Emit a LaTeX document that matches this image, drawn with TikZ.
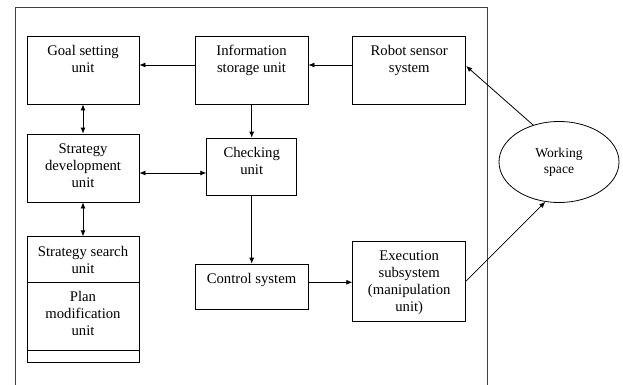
\documentclass[tikz,border=0pt]{standalone}
\usepackage{fontspec}
\setmainfont{Liberation Serif}
\usetikzlibrary{shapes.geometric,arrows.meta}
\newcommand{\bxt}[3]{\parbox[c][#2pt][t]{#1pt}{\centering\vspace*{8pt}\strut #3\par}}
\tikzset{
  unitbox/.style={draw, rectangle, inner sep=0pt, line width=0.8pt, font=\fontsize{14.7}{17}\selectfont},
  conn/.style={line width=0.8pt, -{Latex[length=6pt,width=5pt]}},
  conn2/.style={line width=0.8pt, {Latex[length=6pt,width=5pt]}-{Latex[length=6pt,width=5pt]}},
  frame/.style={draw=black!75, line width=1pt}
}
\begin{document}
\begin{tikzpicture}[x=1pt,y=-1pt]
\useasboundingbox (0,0) rectangle (623,385);
\draw[frame] (15,385) -- (15,8) -- (487.7,8) -- (487.7,385);
\node[unitbox] (goal) at (83,70) {\bxt{112}{68}{Goal setting\\unit}};
\node[unitbox] (info) at (251.5,70) {\bxt{113}{68}{Information\\storage unit}};
\node[unitbox] (robot) at (409.2,70) {\bxt{113}{68}{Robot sensor\\system}};
\node[unitbox] (strat) at (83,168) {\bxt{112}{68}{Strategy\\development\\unit}};
\node[unitbox] (check) at (251.7,166.7) {\bxt{90}{57.3}{Checking\\unit}};
\node[unitbox] (search) at (83,259.3) {\bxt{112}{45.3}{Strategy search\\unit}};
\node[unitbox] (plan) at (83,316.3) {\bxt{112}{68.7}{Plan\\modification\\unit}};
\node[unitbox, minimum width=112pt, minimum height=12pt] (blank) at (83,356.7) {};
\node[unitbox] (ctrl) at (251.5,286.7) {\bxt{113}{45.3}{Control system}};
\node[unitbox] (exec) at (409.2,281) {\bxt{113}{80}{Execution\\subsystem\\(manipulation\\unit)}};
\node[draw, ellipse, line width=0.8pt, minimum width=120pt, minimum height=81pt, inner sep=0pt, align=center, font=\fontsize{13.6}{15.5}\selectfont] (ws) at (559,162) {Working\\space};
\draw[conn] ([yshift=5pt]info.west) -- ([yshift=5pt]goal.east);
\draw[conn] ([yshift=5pt]robot.west) -- ([yshift=5pt]info.east);
\draw[conn2] (goal.south) -- (strat.north);
\draw[conn2] (strat.south) -- (search.north);
\draw[conn] (info.south -| check.north) -- (check.north);
\draw[conn2] ([yshift=-5pt]strat.east) -- ([yshift=-6.3pt]check.west);
\draw[conn] (check.south) -- (check.south |- ctrl.north);
\draw[conn] ([yshift=4.4pt]ctrl.east) -- ([yshift=-1.3pt]exec.west);
\draw[conn] (ws.125) -- ([yshift=4pt]robot.east);
\draw[conn] (exec.east) -- (ws.251);
\end{tikzpicture}
\end{document}
